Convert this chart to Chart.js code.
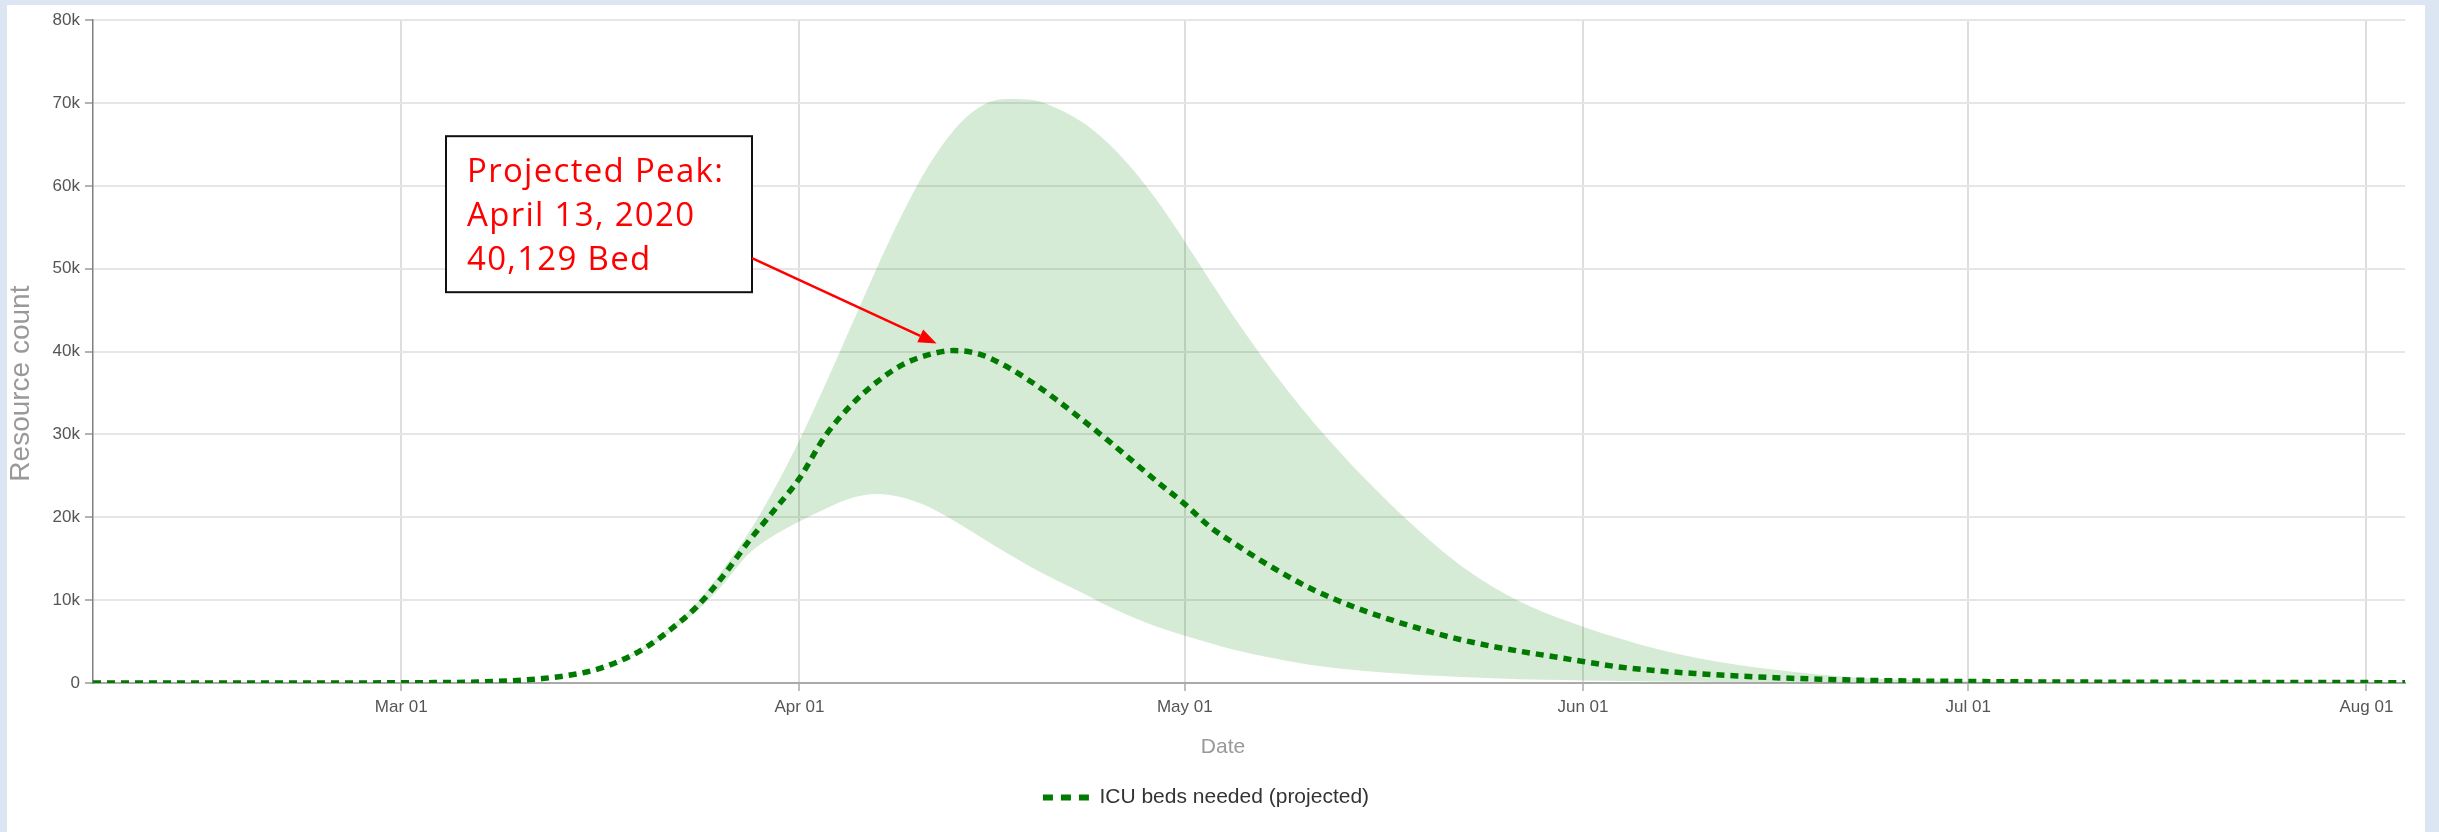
<!DOCTYPE html>
<html><head><meta charset="utf-8">
<script src="https://cdn.jsdelivr.net/npm/chart.js@4.4.1/dist/chart.umd.min.js"></script>
<style>
html,body{margin:0;padding:0;background:#dce6f2;width:2439px;height:832px;overflow:hidden}
#wrap{position:absolute;left:7px;top:5px;width:2418px;height:827px;background:#fff}
canvas{display:block}
</style></head><body>
<div id="wrap"><canvas id="c" width="2418" height="827"></canvas></div>
<script>
// ---- data ----
const dates = ['2020-02-06','2020-02-16','2020-02-26','2020-03-03','2020-03-07','2020-03-10','2020-03-12','2020-03-14','2020-03-16','2020-03-18',
  '2020-03-20','2020-03-22','2020-03-24','2020-03-26','2020-03-28','2020-03-30','2020-04-01','2020-04-03','2020-04-05','2020-04-07',
  '2020-04-09','2020-04-11','2020-04-13','2020-04-15','2020-04-17','2020-04-19','2020-04-21','2020-04-23','2020-04-25','2020-04-27',
  '2020-04-29','2020-05-01','2020-05-03','2020-05-05','2020-05-07','2020-05-09','2020-05-11','2020-05-13','2020-05-15','2020-05-17',
  '2020-05-19','2020-05-21','2020-05-23','2020-05-25','2020-05-27','2020-05-29','2020-06-01','2020-06-04','2020-06-07','2020-06-10',
  '2020-06-13','2020-06-16','2020-06-19','2020-06-22','2020-06-25','2020-07-01','2020-07-10','2020-07-20','2020-08-04'];
const icuMean = [0,0,10,40,120,300,540,920,1550,2650,
  4250,6500,9200,12800,17000,20800,24700,29800,33500,36300,
  38400,39600,40129,39700,38300,36400,34200,31800,29300,26700,
  24100,21600,18800,16700,14700,12900,11250,9900,8700,7650,
  6700,5800,5050,4400,3850,3350,2600,1900,1450,1120,
  850,640,480,350,270,180,110,70,40];
const icuUpper = [0,0,10,40,120,300,540,940,1600,2750,
  4450,6800,9700,13600,18000,23300,29300,36000,43000,50000,
  56600,62300,66700,69500,70500,70400,69400,67700,65200,61900,
  57900,53300,48500,43800,39400,35300,31500,28000,24700,21600,
  18700,16000,13600,11600,9900,8500,6800,5300,4000,3000,
  2200,1600,1100,700,450,200,120,75,40];
const icuLower = [0,0,10,40,120,300,530,900,1500,2550,
  4050,6200,8700,11800,15500,17800,19500,21000,22300,22800,
  22400,21300,19600,17700,15800,14000,12400,10900,9300,7900,
  6700,5700,4800,3950,3250,2650,2150,1750,1450,1200,
  1000,830,680,560,460,380,300,230,180,140,
  110,90,70,55,45,35,25,20,15];
const axisStart = '2020-02-06';
const axisEnd = '2020-08-04';
const xTickDates = ['2020-03-01','2020-04-01','2020-05-01','2020-06-01','2020-07-01','2020-08-01'];
const xTickLabels = ['Mar 01','Apr 01','May 01','Jun 01','Jul 01','Aug 01'];
const yTickValues = [0,10000,20000,30000,40000,50000,60000,70000,80000];
const yTickLabels = ['0','10k','20k','30k','40k','50k','60k','70k','80k'];
const peakDate = '2020-04-13';
const peakValue = 40129;
const noteLines = ['Projected Peak:', 'April 13, 2020', '40,129 Bed'];
const seriesLabel = 'ICU beds needed (projected)';
const xTitle = 'Date';
const yTitle = 'Resource count';

// ---- helpers ----
function dayIndex(s){
  const [y,m,d] = s.split('-').map(Number);
  const [y0,m0,d0] = axisStart.split('-').map(Number);
  return Math.round((Date.UTC(y,m-1,d) - Date.UTC(y0,m0-1,d0)) / 86400000);
}
const F = '"Liberation Sans", Arial, sans-serif';
const tickSize = 17;
const titleSize = 21;
const legendSize = 21;

const pts = arr => arr.map((v,i) => ({x: dayIndex(dates[i]), y: v}));

const titlePlugin = {
  id: 'axisTitles',
  afterDraw(chart){
    const {ctx, chartArea} = chart;
    ctx.save();
    ctx.fillStyle = '#999';
    ctx.textAlign = 'center';
    ctx.textBaseline = 'middle';
    ctx.font = titleSize + 'px ' + F;
    ctx.fillText(xTitle, chartArea.left + (chartArea.right - chartArea.left) / 2 - 26, chartArea.bottom + 64);
    ctx.translate(14, chartArea.top + (chartArea.bottom - chartArea.top) / 2 + 32);
    ctx.rotate(-Math.PI / 2);
    ctx.font = '28px ' + F;
    ctx.fillText(yTitle, 0, 0);
    ctx.restore();
  }
};

const notePlugin = {
  id: 'note',
  afterDraw(chart){
    const {ctx, chartArea, scales:{x, y}} = chart;
    const bx = chartArea.left + 353, by = chartArea.top + 116, bw = 306, bh = 156;
    ctx.save();
    ctx.fillStyle = '#fff';
    ctx.fillRect(bx, by, bw, bh);
    ctx.strokeStyle = '#111';
    ctx.lineWidth = 2;
    ctx.strokeRect(bx, by, bw, bh);
    ctx.fillStyle = '#ff0000';
    ctx.font = '500 33px "Open Sans", "Noto Sans", sans-serif';
    try { ctx.letterSpacing = '1.3px'; } catch(e) {}
    ctx.textBaseline = 'alphabetic';
    ctx.textAlign = 'left';
    noteLines.forEach((t, i) => ctx.fillText(t, bx + 21, by + 46 + i * 44));
    try { ctx.letterSpacing = '0px'; } catch(e) {}
    // arrow pointing at the peak
    const px = x.getPixelForValue(dayIndex(peakDate));
    const py = y.getPixelForValue(peakValue);
    const sx = bx + bw, sy = by + 122;
    const tx = px - 17, ty = py - 7;
    const ang = Math.atan2(ty - sy, tx - sx);
    const L = 18, W = 14;
    const ex = tx - L * Math.cos(ang), ey = ty - L * Math.sin(ang);
    ctx.strokeStyle = '#ff0000';
    ctx.lineWidth = 2.5;
    ctx.beginPath(); ctx.moveTo(sx, sy); ctx.lineTo(ex, ey); ctx.stroke();
    ctx.fillStyle = '#ff0000';
    ctx.beginPath();
    ctx.moveTo(tx, ty);
    ctx.lineTo(ex + (W/2) * Math.sin(ang), ey - (W/2) * Math.cos(ang));
    ctx.lineTo(ex - (W/2) * Math.sin(ang), ey + (W/2) * Math.cos(ang));
    ctx.closePath(); ctx.fill();
    ctx.restore();
  }
};

const meanDash = [8, 6];
const meanWidth = 5.5;
const meanColor = '#007a00';
const legendDash = [10, 8];

new Chart(document.getElementById('c'), {
  type: 'line',
  data: {
    datasets: [
      { label: 'upper', data: pts(icuUpper), borderColor: 'transparent', borderWidth: 0, pointRadius: 0,
        backgroundColor: 'rgba(0,128,0,0.16)', fill: '+1', cubicInterpolationMode: 'monotone', order: 2 },
      { label: 'lower', data: pts(icuLower), borderColor: 'transparent', borderWidth: 0, pointRadius: 0,
        backgroundColor: 'rgba(0,128,0,0.16)', fill: false, cubicInterpolationMode: 'monotone', order: 3 },
      { label: seriesLabel, data: pts(icuMean), borderColor: meanColor, backgroundColor: meanColor, borderWidth: meanWidth,
        borderDash: meanDash, pointRadius: 0, fill: false, cubicInterpolationMode: 'monotone', order: 0 }
    ]
  },
  options: {
    responsive: false,
    animation: false,
    devicePixelRatio: 1,
    layout: { padding: { left: 0, right: 20, top: 15, bottom: 14 } },
    plugins: {
      tooltip: { enabled: false },
      legend: {
        position: 'bottom',
        labels: {
          usePointStyle: true, pointStyle: 'line', pointStyleWidth: 46,
          color: '#333', padding: 10,
          font: { family: F, size: legendSize },
          generateLabels: chart => Chart.defaults.plugins.legend.labels.generateLabels(chart)
            .filter(item => item.datasetIndex === 2)
            .map(item => Object.assign(item, { lineDash: legendDash, lineWidth: 6, strokeStyle: meanColor, fillStyle: meanColor, pointStyle: 'line' }))
        }
      }
    },
    scales: {
      x: {
        type: 'linear', min: 0, max: dayIndex(axisEnd),
        afterBuildTicks: s => { s.ticks = xTickDates.map(d => ({ value: dayIndex(d) })); },
        ticks: {
          autoSkip: false, maxRotation: 0, padding: 6, color: '#555',
          font: { family: F, size: tickSize },
          callback: v => { const i = xTickDates.findIndex(d => dayIndex(d) === v); return i >= 0 ? xTickLabels[i] : ''; }
        },
        grid: { color: '#dedede', lineWidth: 2, tickLength: 8, tickColor: '#aaa', tickWidth: 1.5 },
        border: { display: true, color: '#aaa', width: 2 },
        afterFit: s => { s.height = 94; }
      },
      y: {
        type: 'linear', min: 0, max: 80000,
        afterBuildTicks: s => { s.ticks = yTickValues.map(v => ({ value: v })); },
        ticks: {
          padding: 5, color: '#555', font: { family: F, size: tickSize },
          callback: v => yTickLabels[yTickValues.indexOf(v)]
        },
        grid: { color: '#e6e6e6', lineWidth: 2, tickLength: 8, tickColor: '#999', tickWidth: 1.5 },
        border: { display: true, color: '#808080', width: 1.5 },
        afterFit: s => { s.width = 86; }
      }
    }
  },
  plugins: [notePlugin, titlePlugin]
});
</script>
</body></html>
